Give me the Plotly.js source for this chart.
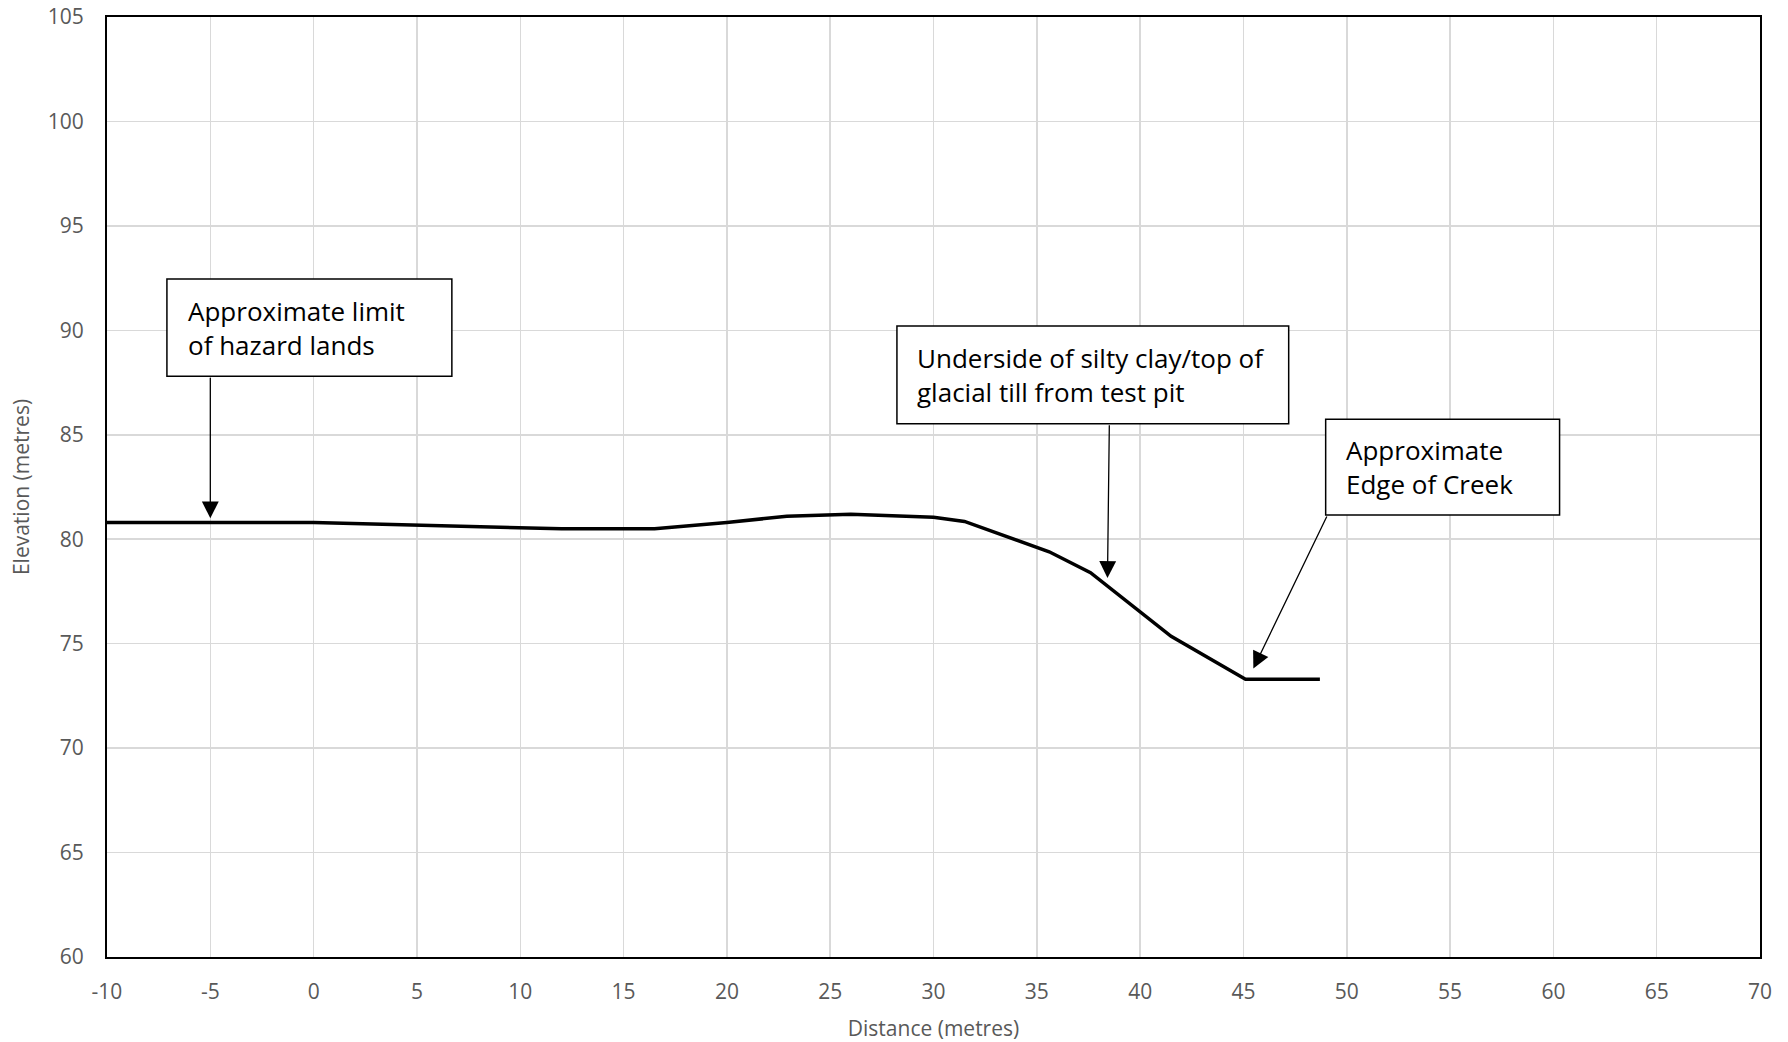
<!DOCTYPE html>
<html>
<head>
<meta charset="utf-8">
<script src="https://cdn.plot.ly/plotly-3.0.1.min.js"></script>
<style>html,body{margin:0;padding:0;background:#fff;}#chart{width:1788px;height:1042px;}</style>
</head>
<body>
<div id="chart"></div>
<script>
// Ground profile
var distance  = [-10, 0, 12, 16.5, 20, 22.9, 26, 30, 31.5, 35.6, 37.6, 40, 41.5, 45.1, 48.7];
var elevation = [80.8, 80.8, 80.5, 80.5, 80.8, 81.1, 81.2, 81.05, 80.85, 79.4, 78.4, 76.5, 75.35, 73.3, 73.3];

// Callout texts
var calloutTexts = [
  "Approximate limit<br>of hazard lands",
  "Underside of silty clay/top of<br>glacial till from test pit",
  "Approximate<br>Edge of Creek"
];
// Callout box extents [x0, x1, yBottom, yTop] and text left x
var calloutBoxes = [
  [-7.10, 6.69, 87.80, 92.46],
  [28.23, 47.19, 85.53, 90.21],
  [48.98, 60.30, 81.16, 85.74]
];
var calloutTextX = [-6.20, 29.12, 49.87];
// Arrows: [tailX, tailY, tipX, tipY]
var calloutArrows = [
  [-5.0, 87.80, -5.0, 81.0],
  [38.51, 85.53, 38.42, 78.14],
  [49.07, 81.16, 45.48, 73.81]
];

var xTicks = [-10,-5,0,5,10,15,20,25,30,35,40,45,50,55,60,65,70];
var yTicks = [60,65,70,75,80,85,90,95,100,105];

var tickFont = {family: "Open Sans, sans-serif", size: 21, color: "#595959"};

var shapes = [];
var annotations = [];
for (var i = 0; i < calloutTexts.length; i++) {
  var b = calloutBoxes[i];
  shapes.push({type: "rect", xref: "x", yref: "y", x0: b[0], x1: b[1], y0: b[2], y1: b[3],
    line: {color: "#000", width: 1.5}, fillcolor: "#fff", layer: "above"});
  annotations.push({xref: "x", yref: "y", x: calloutTextX[i], y: (b[2] + b[3]) / 2,
    xanchor: "left", yanchor: "middle", align: "left", showarrow: false,
    text: calloutTexts[i], font: {family: "Open Sans, sans-serif", size: 26, color: "#000"}});
  var a = calloutArrows[i];
  annotations.push({xref: "x", yref: "y", axref: "x", ayref: "y", x: a[2], y: a[3], ax: a[0], ay: a[1],
    text: "", showarrow: true, arrowhead: 2, arrowsize: 2.6, arrowwidth: 1.3, arrowcolor: "#000",
    standoff: 0, startstandoff: 0});
}

var trace = {
  x: distance, y: elevation, type: "scatter", mode: "lines",
  line: {color: "#000", width: 3.5}, hoverinfo: "skip", showlegend: false
};

var layout = {
  width: 1788, height: 1042,
  margin: {l: 107, r: 28, t: 17, b: 85, pad: 0},
  paper_bgcolor: "#fff", plot_bgcolor: "#fff",
  showlegend: false,
  xaxis: {
    range: [-10, 70], tickvals: xTicks, ticktext: xTicks.map(String),
    showgrid: true, gridcolor: "#d9d9d9", gridwidth: 1.5,
    zeroline: false, showline: true, linecolor: "#000", linewidth: 2, mirror: true,
    ticks: "", ticklabelstandoff: 15, tickfont: tickFont,
    title: {text: "Distance (metres)", font: tickFont, standoff: 20}
  },
  yaxis: {
    range: [60, 105], tickvals: yTicks, ticktext: yTicks.map(String),
    showgrid: true, gridcolor: "#d9d9d9", gridwidth: 1.5,
    zeroline: false, showline: true, linecolor: "#000", linewidth: 2, mirror: true,
    ticks: "", ticklabelstandoff: 17, tickfont: tickFont,
    title: {text: "Elevation (metres)", font: tickFont, standoff: 12}
  },
  shapes: shapes,
  annotations: annotations
};

Plotly.newPlot("chart", [trace], layout, {staticPlot: true, displayModeBar: false});
</script>
</body>
</html>
